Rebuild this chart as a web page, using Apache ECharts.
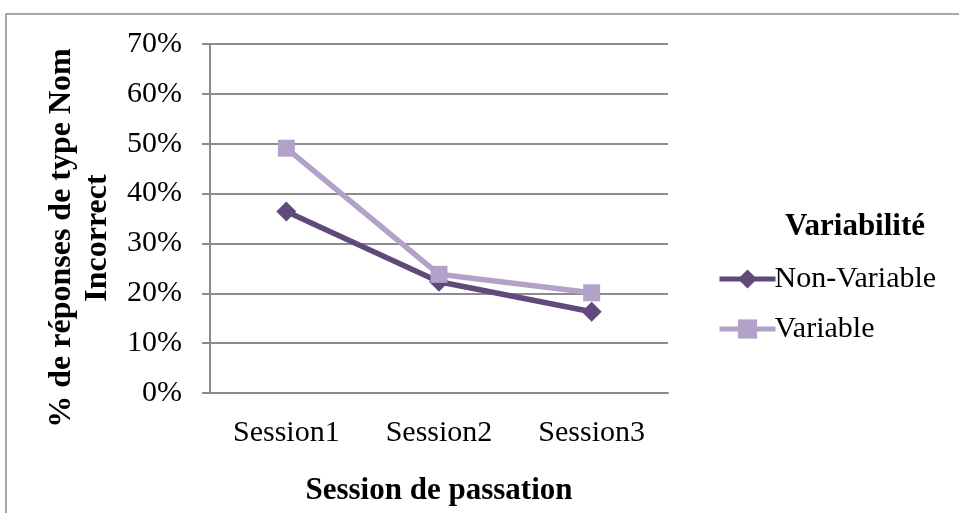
<!DOCTYPE html>
<html>
<head>
<meta charset="utf-8">
<script src="https://cdn.jsdelivr.net/npm/echarts@6/dist/echarts.min.js"></script>
<style>
html,body{margin:0;padding:0;background:#fff;}
#chart{width:959px;height:513px;}
</style>
</head>
<body>
<div id="chart"></div>
<script>
var categories = ['Session1', 'Session2', 'Session3'];
var seriesNames = ['Non-Variable', 'Variable'];
var nonVariable = [36.4, 22.3, 16.3];
var variable = [49.1, 23.8, 20.1];
var yTicks = [0, 10, 20, 30, 40, 50, 60, 70];
var xAxisTitle = 'Session de passation';
var yAxisTitle = '% de réponses de type Nom\nIncorrect';
var legendTitle = 'Variabilité';

var FONT = 'Liberation Serif';
var chart = echarts.init(document.getElementById('chart'));
chart.setOption({
  animation: false,
  backgroundColor: '#fff',
  textStyle: { fontFamily: FONT },
  grid: { left: 210, right: 291, top: 44, bottom: 120 },
  graphic: [
    { type: 'rect', shape: { x: 6, y: 14, width: 1000, height: 600 }, style: { fill: 'none', stroke: '#8c8c8c', lineWidth: 1.5 }, silent: true },
    { type: 'text', x: 80, y: 238, rotation: Math.PI / 2,
      style: { text: yAxisTitle, font: 'bold 32px "Liberation Serif"', fill: '#000', align: 'center', verticalAlign: 'middle', lineHeight: 36 } },
    { type: 'text', x: 855, y: 227,
      style: { text: legendTitle, font: 'bold 31px "Liberation Serif"', fill: '#000', align: 'center', verticalAlign: 'middle' } }
  ],
  legend: {
    orient: 'vertical',
    left: 712,
    top: 259,
    itemWidth: 56,
    itemHeight: 24,
    itemGap: 20,
    data: seriesNames,
    lineStyle: { width: 5 },
    textStyle: { fontFamily: FONT, fontSize: 30, color: '#000', padding: [0, 0, 0, -6] }
  },
  xAxis: {
    type: 'category',
    data: categories,
    boundaryGap: true,
    name: xAxisTitle,
    nameLocation: 'middle',
    nameGap: 82,
    nameTextStyle: { fontFamily: FONT, fontSize: 31, fontWeight: 'bold', color: '#000' },
    axisLine: { lineStyle: { color: '#8c8c8c', width: 2 } },
    axisTick: { show: false },
    axisLabel: { fontFamily: FONT, fontSize: 30, color: '#000', margin: 25 }
  },
  yAxis: {
    type: 'value',
    min: 0,
    max: 70,
    interval: 10,
    axisLine: { show: true, lineStyle: { color: '#8c8c8c', width: 2 } },
    axisTick: { show: true, length: 8, lineStyle: { color: '#8c8c8c', width: 2 } },
    splitLine: { lineStyle: { color: '#8c8c8c', width: 2 } },
    axisLabel: { fontFamily: FONT, fontSize: 30, color: '#000', margin: 28,
      formatter: function (v) { return yTicks.indexOf(v) >= 0 ? v + '%' : ''; } }
  },
  series: [
    { name: seriesNames[0], type: 'line', data: nonVariable, symbol: 'diamond', symbolSize: 20,
      itemStyle: { color: '#604A7B' }, lineStyle: { color: '#604A7B', width: 5.5 } },
    { name: seriesNames[1], type: 'line', data: variable, symbol: 'rect', symbolSize: 17,
      itemStyle: { color: '#B3A2C7' }, lineStyle: { color: '#B3A2C7', width: 5.5 } }
  ]
});
</script>
</body>
</html>
